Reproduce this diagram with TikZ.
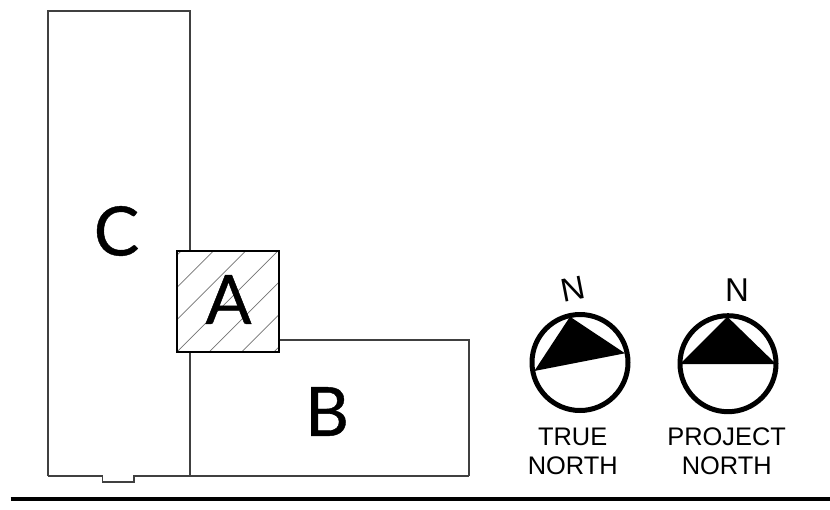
\documentclass[tikz,border=0pt]{standalone}
\usepackage{fontspec}
\setmainfont{Liberation Sans}
\newfontfamily\bigfont[FakeBold=0.6]{Lato}
\tikzset{
  px/.style={x=1pt,y=-1pt},
  wall/.style={draw=black!75,line width=1.1pt},
  ring/.style={draw=black,line width=5pt,fill=white},
  wedge/.style={fill=black,draw=none},
  hatchline/.style={draw=black!55,line width=0.7pt},
  bigletter/.style={inner sep=0pt,font=\bigfont\fontsize{68}{68}\selectfont},
  northletter/.style={inner sep=0pt,font=\fontsize{33}{33}\selectfont},
  caption/.style={inner sep=0pt,font=\fontsize{25.4}{25.4}\selectfont},
}
\begin{document}
\begin{tikzpicture}[px]
\useasboundingbox (0,0) rectangle (830,509);
% buildings
\draw[wall] (48,476) -- (48,11) -- (190,11) -- (190,476);
\draw[wall] (190,340) -- (469,340) -- (469,476);
\draw[wall] (48,476) -- (102.5,476) -- (102.5,482) -- (134,482) -- (134,476) -- (469,476);
% A block
\fill[white] (177,251) rectangle (279,352);
\begin{scope}
\clip (177,251) rectangle (279,352);
\foreach \c in {432,464.3,496.6,528.9,561.2,593.5,625.8}
  \draw[hatchline] (\c-251+10,241) -- (\c-352-10,362);
\end{scope}
\draw[draw=black,line width=1.2pt] (177,251) rectangle (279,352);
\node[bigletter] (c) at (116.5,231) {C};
\node[bigletter] (a) at (228.5,299.5) {A};
\node[bigletter] (b) at (327,411.5) {B};
% true north
\draw[ring] (580,362.5) circle (48);
\fill[wedge] (570,316.7) -- (625,353.3) -- (534.3,371) -- cycle;
\node[northletter,rotate=11] (n1) at (573.3,289.3) {N};
\node[caption] (t1) at (572.7,436.7) {TRUE};
\node[caption] (t2) at (572.7,466) {NORTH};
% project north
\draw[ring] (728,363.7) circle (48);
\fill[wedge] (727.3,316.7) -- (776,364) -- (680,364) -- cycle;
\node[northletter] (n2) at (737,290) {N};
\node[caption] (p1) at (726.7,436.7) {PROJECT};
\node[caption] (p2) at (726.7,466) {NORTH};
% ground line
\draw[line width=4pt] (10.5,498.5) -- (830,498.5);
\end{tikzpicture}
\end{document}
